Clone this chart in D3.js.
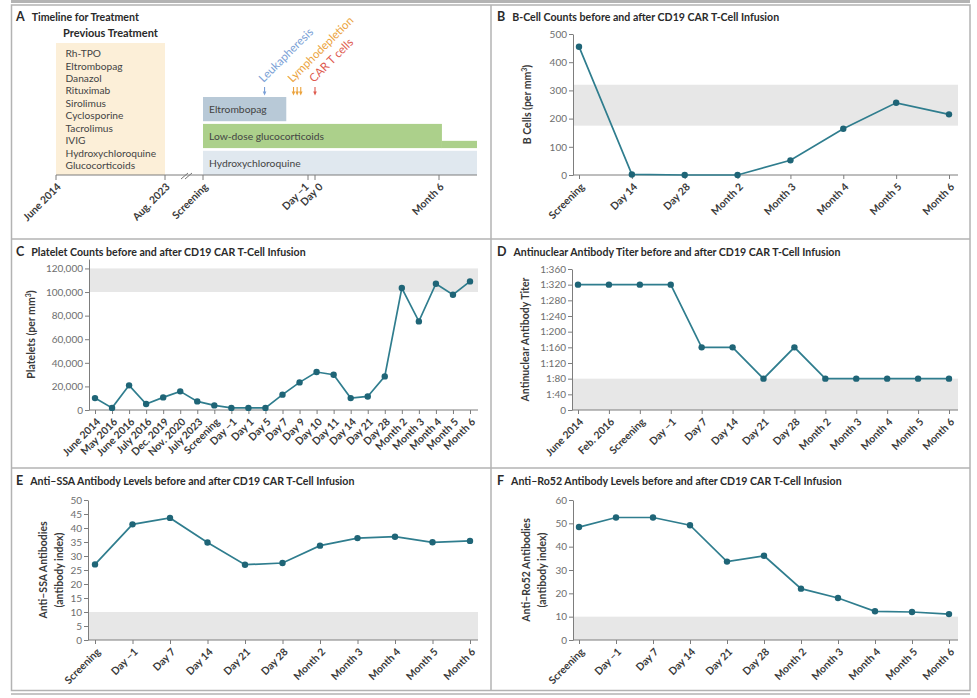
<!DOCTYPE html>
<html><head><meta charset="utf-8">
<script src="https://cdn.jsdelivr.net/npm/d3@7"></script>
<style>
body{margin:0;background:#fff;}
svg{display:block;font-family:Lato,"Open Sans",sans-serif;}
</style></head><body>
<svg id="chart" width="977" height="698"></svg>
<script>
// ---------- DATA ----------
// Panel A
const previousTreatments = ["Rh-TPO","Eltrombopag","Danazol","Rituximab","Sirolimus","Cyclosporine","Tacrolimus","IVIG","Hydroxychloroquine","Glucocorticoids"];
const preTicks = [{label:"June 2014", date:new Date(2014,5,1)}, {label:"Aug. 2023", date:new Date(2023,7,1)}];
const postTicks = [{label:"Screening", day:-30},{label:"Day \u22121", day:-1},{label:"Day 0", day:0},{label:"Month 6", day:180}];
const currentTreatments = ["Eltrombopag","Low-dose glucocorticoids","Hydroxychloroquine"];
const treatmentStart = [-30,-30,-30];
const treatmentEnd = [-7,184,232];
const treatmentTaperEnd = [null,232,null];
const procedureNames = ["Leukapheresis","Lymphodepletion","CAR T cells"];
const procedureDays = [[-13],[-5,-4,-3],[0]];

// Panel B
const bCategories = ["Screening","Day 14","Day 28","Month 2","Month 3","Month 4","Month 5","Month 6"];
const bValues = [455,2,0,0,52,164,256,215];
const bTicks = [0,100,200,300,400,500];
const bNormal = [175,320];

// Panel C
const cCategories = ["June 2014","May 2016","June 2016","July 2016","Dec. 2019","Nov. 2020","July 2023","Screening","Day \u22121","Day 1","Day 5","Day 7","Day 9","Day 10","Day 11","Day 14","Day 21","Day 28","Month 2","Month 3","Month 4","Month 5","Month 6"];
const cValues = [10100,1800,20900,5100,10700,15800,7300,3900,1800,1800,1800,13000,23400,32200,29900,10100,11500,28500,103400,75100,107000,97700,109000];
const cTicks = [0,20000,40000,60000,80000,100000,120000];
const cNormal = [100000,120000];

// Panel D
const dCategories = ["June 2014","Feb. 2016","Screening","Day \u22121","Day 7","Day 14","Day 21","Day 28","Month 2","Month 3","Month 4","Month 5","Month 6"];
const dValues = [320,320,320,320,160,160,80,160,80,80,80,80,80];
const dTicks = [0,40,80,120,160,200,240,280,320,360];
const dNormal = [0,80];

// Panel E
const eCategories = ["Screening","Day \u22121","Day 7","Day 14","Day 21","Day 28","Month 2","Month 3","Month 4","Month 5","Month 6"];
const eValues = [27.0,41.3,43.6,34.8,26.9,27.5,33.7,36.4,36.9,34.9,35.4];
const eTicks = [0,5,10,15,20,25,30,35,40,45,50];
const eNormal = [0,10];

// Panel F
const fCategories = ["Screening","Day \u22121","Day 7","Day 14","Day 21","Day 28","Month 2","Month 3","Month 4","Month 5","Month 6"];
const fValues = [48.4,52.5,52.5,49.2,33.6,36.1,22.0,18.0,12.3,12.0,11.1];
const fTicks = [0,10,20,30,40,50,60];
const fNormal = [0,10];

// ---------- STYLE ----------
const TEXT = "#3a3a3a", AXIS = "#7d7d7d", TICKTXT = "#6e6e6e", BAND = "#e7e7e7";
const LINE = "#2f7d8e", DOT = "#1f6577";

const svg = d3.select("#chart");

// frame
const frame = svg.append("g").attr("fill","none").attr("stroke","#b3b3b3");
frame.append("line").attr("x1",11).attr("x2",970).attr("y1",1.5).attr("y2",1.5).attr("stroke-width",3);
frame.append("rect").attr("x",11.5).attr("y",5).attr("width",958.5).attr("height",685.5).attr("stroke-width",1.5);
frame.append("line").attr("x1",11).attr("x2",970).attr("y1",694).attr("y2",694).attr("stroke-width",1.5);
frame.append("line").attr("x1",491).attr("x2",491).attr("y1",5).attr("y2",691).attr("stroke-width",1.5);
frame.append("line").attr("x1",11).attr("x2",970).attr("y1",239).attr("y2",239).attr("stroke-width",1.5);
frame.append("line").attr("x1",11).attr("x2",970).attr("y1",468).attr("y2",468).attr("stroke-width",1.5);

function title(letter, text, x, y) {
  const t = svg.append("text").attr("x",x).attr("y",y).attr("fill","#2a2a2a").attr("font-weight","bold");
  t.append("tspan").attr("font-size",12.5).text(letter);
  t.append("tspan").attr("dx",7).attr("font-size",10.6).text(text);
}

function linePanel(cfg) {
  const g = svg.append("g");
  const x = d3.scalePoint().domain(cfg.categories).range(cfg.xRange);
  const y = d3.scaleLinear().domain(cfg.yDomain).range(cfg.yRange);
  const y0 = cfg.yRange[0];
  g.append("rect").attr("x",cfg.axisLeft).attr("width",cfg.axisRight-cfg.axisLeft)
    .attr("y",y(cfg.normal[1])).attr("height",y(cfg.normal[0])-y(cfg.normal[1])).attr("fill",BAND);
  // y axis
  const ya = g.append("g").attr("transform",`translate(${cfg.axisLeft},0)`)
    .call(d3.axisLeft(y).tickValues(cfg.ticks).tickSize(4).tickPadding(2).tickSizeOuter(0).tickFormat(cfg.fmt));
  ya.selectAll("path,line").attr("stroke",AXIS);
  ya.selectAll("text").attr("fill",TICKTXT).attr("font-size",10).attr("font-family","Lato,sans-serif");
  // x axis
  g.append("line").attr("x1",cfg.axisLeft).attr("x2",cfg.axisRight).attr("y1",y0).attr("y2",y0).attr("stroke",AXIS);
  const xa = g.append("g").attr("transform",`translate(0,${y0})`)
    .call(d3.axisBottom(x).tickSize(4).tickSizeOuter(0));
  xa.select(".domain").remove();
  xa.selectAll("line").attr("stroke",AXIS);
  xa.selectAll("text").attr("x",0).attr("y",0).attr("dy","0.35em")
    .attr("transform","translate(3,10) rotate(-45)").attr("text-anchor","end")
    .attr("fill",TEXT).attr("font-weight","bold").attr("font-size",10.4).attr("font-family","Lato,sans-serif");
  // y label
  const lab = g.append("text").attr("transform",`translate(${cfg.labelX},${(cfg.yRange[0]+cfg.yRange[1])/2}) rotate(-90)`)
    .attr("text-anchor","middle").attr("fill",TEXT).attr("font-weight","bold").attr("font-size",10.5);
  cfg.yLabel.forEach((s,i)=>{
    const ts = lab.append("tspan").attr("x",0).attr("dy", i===0 ? (cfg.yLabel.length>1 ? "-0.35em":"0.35em") : "1.45em");
    if (typeof s === "string") ts.text(s); else s(ts);
  });
  // line
  const data = cfg.categories.map((c,i)=>({c, v:cfg.values[i]}));
  g.append("path").datum(data).attr("fill","none").attr("stroke",LINE).attr("stroke-width",1.7)
    .attr("d", d3.line().x(d=>x(d.c)).y(d=>y(d.v)));
  g.selectAll("circle.pt").data(data).join("circle").attr("class","pt")
    .attr("cx",d=>x(d.c)).attr("cy",d=>y(d.v)).attr("r",3.2).attr("fill",DOT);
}

function unitsLabel(prefix){
  return ts => { ts.append("tspan").text(prefix+" (per mm"); ts.append("tspan").attr("font-size",7).attr("dy",-4).text("3"); ts.append("tspan").attr("dy",4).text(")"); };
}

// ---------- PANEL A ----------
title("A","Timeline for Treatment",16,20.5);
(function(){
  const g = svg.append("g");
  const axisY = 175;
  const pre = d3.scaleTime().domain(preTicks.map(d=>d.date)).range([56,165]);
  const post = d3.scaleLinear().domain([-30,-1,0,180,232]).range([203,308,315,439,477]);
  // previous treatment box
  g.append("rect").attr("x",pre(preTicks[0].date)).attr("width",pre(preTicks[1].date)-pre(preTicks[0].date))
    .attr("y",43).attr("height",axisY-43).attr("fill","#fcefd8");
  g.append("text").attr("x",63).attr("y",36.5).attr("fill","#2a2a2a").attr("font-weight","bold").attr("font-size",11).text("Previous Treatment");
  const ly = d3.scalePoint().domain(previousTreatments).range([53.5,165.5]);
  g.selectAll("text.prev").data(previousTreatments).join("text").attr("class","prev")
    .attr("x",65.5).attr("y",d=>ly(d)).attr("dy","0.35em").attr("fill","#444").attr("font-size",10.2).text(d=>d);
  // current treatments
  const band = d3.scaleBand().domain(currentTreatments).range([97,175]).paddingInner(0.1);
  const colors = ["#b8c9d7","#acd08b","#e0e8ef"];
  currentTreatments.forEach((name,i)=>{
    g.append("rect").attr("x",post(treatmentStart[i])).attr("width",post(treatmentEnd[i])-post(treatmentStart[i]))
      .attr("y",band(name)).attr("height",band.bandwidth()).attr("fill",colors[i]);
    if (treatmentTaperEnd[i] !== null) {
      const h = band.bandwidth()*0.3;
      g.append("rect").attr("x",post(treatmentEnd[i])-0.5).attr("width",post(treatmentTaperEnd[i])-post(treatmentEnd[i])+0.5)
        .attr("y",band(name)+band.bandwidth()-h).attr("height",h).attr("fill",colors[i]);
    }
    g.append("text").attr("x",post(treatmentStart[i])+6).attr("y",band(name)+band.bandwidth()/2).attr("dy","0.35em")
      .attr("fill","#444").attr("font-size",10.3).text(name);
  });
  // axis
  g.append("line").attr("x1",pre(preTicks[0].date)).attr("x2",post(232)).attr("y1",axisY).attr("y2",axisY).attr("stroke",AXIS);
  // break marks
  [[181,179,188,173],[185,179,192,173]].forEach(c=>{
    g.append("line").attr("x1",c[0]).attr("y1",c[1]).attr("x2",c[2]).attr("y2",c[3]).attr("stroke","#777").attr("stroke-width",1);
  });
  const tickPos = preTicks.map(d=>({label:d.label, x:pre(d.date)})).concat(postTicks.map(d=>({label:d.label, x:post(d.day)})));
  tickPos.forEach((t,i)=>{
    // when two ticks sit very close, push the later label outwards so both stay readable
    const crowdedPrev = i>0 && t.x - tickPos[i-1].x < 12;
    const crowdedNext = i<tickPos.length-1 && tickPos[i+1].x - t.x < 12;
    const shift = crowdedPrev ? 6 : (crowdedNext ? -1 : 3);
    g.append("line").attr("x1",t.x).attr("x2",t.x).attr("y1",axisY).attr("y2",axisY+5).attr("stroke",AXIS);
    g.append("text").attr("transform",`translate(${t.x+shift},${axisY+10}) rotate(-45)`).attr("dy","0.35em")
      .attr("text-anchor","end").attr("fill",TEXT).attr("font-weight","bold").attr("font-size",10.4).text(t.label);
  });
  // procedures
  const pColors = ["#7a9fd6","#eba23b","#de5a4e"];
  procedureNames.forEach((name,i)=>{
    procedureDays[i].forEach(d=>{
      const px = post(d);
      g.append("line").attr("x1",px).attr("x2",px).attr("y1",87).attr("y2",92).attr("stroke",pColors[i]).attr("stroke-width",1.1);
      g.append("path").attr("d",`M${px-1.8},91.5L${px+1.8},91.5L${px},95.5Z`).attr("fill",pColors[i]);
    });
    const lx = post(procedureDays[i][0]);
    g.append("text").attr("transform",`translate(${lx-1},${83}) rotate(-45)`).attr("fill",pColors[i])
      .attr("font-size",11.5).text(name);
  });
})();

// ---------- PANELS B-F ----------
title("B","B-Cell Counts before and after CD19 CAR T-Cell Infusion",497,20.5);
linePanel({categories:bCategories, values:bValues, xRange:[579,949], axisLeft:573, axisRight:958,
  yDomain:[0,500], yRange:[175,34], ticks:bTicks, fmt:d3.format("d"), normal:bNormal, labelX:527, yLabel:[unitsLabel("B Cells")]});

title("C","Platelet Counts before and after CD19 CAR T-Cell Infusion",16,255.5);
linePanel({categories:cCategories, values:cValues, xRange:[95,470], axisLeft:89, axisRight:478,
  yDomain:[0,128000], yRange:[410,259], ticks:cTicks, fmt:d3.format(","), normal:cNormal, labelX:31, yLabel:[unitsLabel("Platelets")]});

title("D","Antinuclear Antibody Titer before and after CD19 CAR T-Cell Infusion",497,255.5);
linePanel({categories:dCategories, values:dValues, xRange:[578,949], axisLeft:572, axisRight:958,
  yDomain:[0,360], yRange:[410,269], ticks:dTicks, fmt:d=> d===0 ? "0" : "1:"+d, normal:dNormal, labelX:525, yLabel:["Antinuclear Antibody Titer"]});

title("E","Anti\u2013SSA Antibody Levels before and after CD19 CAR T-Cell Infusion",16,485);
linePanel({categories:eCategories, values:eValues, xRange:[95,470], axisLeft:88, axisRight:478,
  yDomain:[0,50], yRange:[640,500], ticks:eTicks, fmt:d3.format("d"), normal:eNormal, labelX:51, yLabel:["Anti\u2013SSA Antibodies","(antibody index)"]});

title("F","Anti\u2013Ro52 Antibody Levels before and after CD19 CAR T-Cell Infusion",497,485);
linePanel({categories:fCategories, values:fValues, xRange:[579,949], axisLeft:573, axisRight:958,
  yDomain:[0,60], yRange:[640,500], ticks:fTicks, fmt:d3.format("d"), normal:fNormal, labelX:534, yLabel:["Anti\u2013Ro52 Antibodies","(antibody index)"]});
</script>
</body></html>
